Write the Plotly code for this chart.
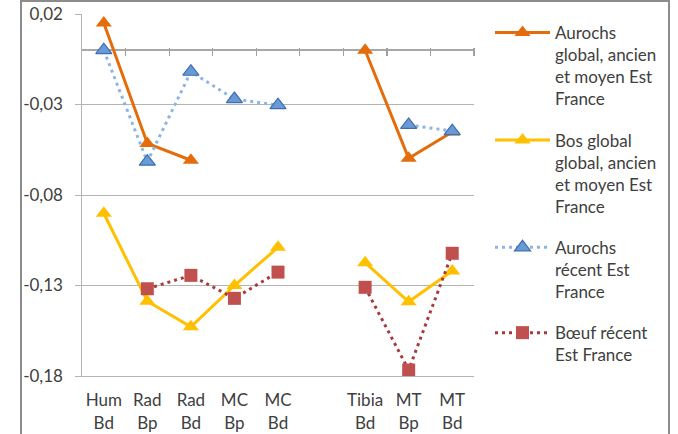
import plotly.graph_objects as go

categories = ["Hum<br>Bd", "Rad<br>Bp", "Rad<br>Bd", "MC<br>Bp", "MC<br>Bd", " ", "Tibia<br>Bd", "MT<br>Bp", "MT<br>Bd"]

aurochs_global = [0.015, -0.0515, -0.0608, None, None, None, 0.0, -0.0597, -0.0452]
bos_global = [-0.0901, -0.1387, -0.1528, -0.1300, -0.1089, None, -0.1174, -0.1390, -0.1220]
aurochs_recent = [0.0, -0.0616, -0.0119, -0.0270, -0.0304, None, None, -0.0413, -0.0447]
boeuf_recent = [None, -0.1318, -0.1244, -0.1371, -0.1226, None, -0.1310, -0.1767, -0.1122]

names = [
    "Aurochs<br>global, ancien<br>et moyen Est<br>France",
    "Bos global<br>global, ancien<br>et moyen Est<br>France",
    "Aurochs<br>récent Est<br>France",
    "Bœuf récent<br>Est France",
]

y_ticks = [0.02, -0.03, -0.08, -0.13, -0.18]
y_ticktext = ["0,02", "-0,03", "-0,08", "-0,13", "-0,18"]

FONT = "Lato"
TXT = "#404040"
GRID = "#b4b4b4"
PAD = "\u00a0\u00a0"

fig = go.Figure()

fig.add_trace(go.Scatter(
    x=categories, y=aurochs_global, name=names[0], mode="lines+markers",
    line=dict(color="#E46C0A", width=3),
    marker=dict(symbol="triangle-up", size=14, color="#E46C0A"),
    legendgroup="a", connectgaps=False))
fig.add_trace(go.Scatter(
    x=categories, y=bos_global, name=names[1], mode="lines+markers",
    line=dict(color="#FFC000", width=3),
    marker=dict(symbol="triangle-up", size=14, color="#FFC000"),
    legendgroup="b", connectgaps=False))
fig.add_trace(go.Scatter(
    x=categories, y=aurochs_recent, name=names[2], mode="lines+markers",
    line=dict(color="#8EB4E3", width=3, dash="3px,4px"),
    marker=dict(symbol="triangle-up", size=14, color="#6A9AD6",
                line=dict(color="#3C6FAE", width=1.2)),
    legendgroup="c", connectgaps=False))
fig.add_trace(go.Scatter(
    x=categories, y=boeuf_recent, name=names[3], mode="lines+markers",
    line=dict(color="#A83A3C", width=3, dash="3px,4px"),
    marker=dict(symbol="square", size=13, color="#C0504D"),
    legendgroup="d", connectgaps=False))

L, R, T, B = 82, 204, 14, 58
W, H = 678, 434
pw, ph = W - L - R, H - T - B
YMIN, YMAX = -0.18, 0.02

def px_x(p):
    return (p - L) / pw

def px_y(p):
    return (H - B - p) / ph

fig.update_layout(
    width=W, height=H,
    margin=dict(l=L, r=R, t=T, b=B, autoexpand=False),
    paper_bgcolor="white", plot_bgcolor="white",
    font=dict(family=FONT, size=17, color=TXT),
    showlegend=True,
    legend=dict(x=px_x(490), y=px_y(15), xanchor="left", yanchor="top",
                valign="top", itemwidth=55, tracegroupgap=16,
                font=dict(family=FONT, size=17, color=TXT),
                bgcolor="rgba(0,0,0,0)"),
    xaxis=dict(type="category", categoryarray=categories, categoryorder="array",
               range=[-0.5, len(categories) - 0.5], showgrid=False, zeroline=False,
               showline=True, linecolor=GRID, linewidth=1,
               ticks="outside", ticklen=9, tickcolor="rgba(0,0,0,0)",
               tickfont=dict(family=FONT, size=17, color=TXT)),
    yaxis=dict(range=[YMIN, YMAX], tickvals=y_ticks,
               ticktext=[t + PAD for t in y_ticktext],
               showgrid=True, gridcolor=GRID, gridwidth=1,
               zeroline=True, zerolinecolor="#a8a8a8", zerolinewidth=1.5,
               showline=True, linecolor=GRID, linewidth=1,
               ticks="outside", ticklen=6, tickcolor=GRID,
               tickfont=dict(family=FONT, size=17, color=TXT)),
)

# page decorations inside the graph div: outer frame and boundary ticks on the zero line
zero_px = T + ph * (YMAX - 0) / (YMAX - YMIN)
n = len(categories)
tick_js = "".join(
    "mk(%.1f,%.1f,1.3,8,'background:#a0a0a0;');" % (L + pw * i / n - 0.6, zero_px - 2)
    for i in range(1, n + 1))
post = (
    "document.body.style.margin='0';"
    "(function(){var gd=document.getElementById('{plot_id}');gd.style.position='relative';"
    "function mk(l,t,w,h,css){var d=document.createElement('div');"
    "d.style.cssText='position:absolute;pointer-events:none;z-index:1000;left:'+l+'px;top:'+t+'px;width:'+w+'px;height:'+h+'px;'+css;"
    "gd.appendChild(d);}"
    "mk(20,0,650,434,'border:2.5px solid #8c8c8c;border-bottom:none;box-sizing:border-box;');"
    + tick_js + "})();"
)

fig.write_html("out.html", config={"displayModeBar": False}, post_script=post)
